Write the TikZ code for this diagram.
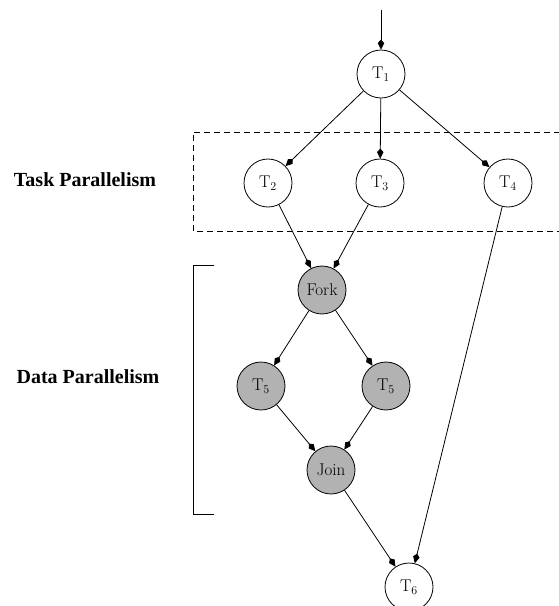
\documentclass[tikz,border=0pt]{standalone}
\usepackage{fontspec}
\newfontfamily\labelfont{Liberation Serif}
\usetikzlibrary{arrows.meta}
\tikzset{
  task/.style={circle,draw,line width=0.8pt,minimum size=48pt,inner sep=0pt,font=\fontsize{17}{19}\selectfont},
  datatask/.style={task,fill=black!30},
  edge/.style={line width=0.8pt,-{Kite[length=10pt,width=6.5pt,inset=3.5pt]}},
  side/.style={font=\labelfont\bfseries\fontsize{20}{24}\selectfont},
}
\begin{document}
\begin{tikzpicture}[x=1pt,y=-1pt]
\useasboundingbox (0,0) rectangle (558,606);
\draw[dashed,dash pattern=on 6pt off 4pt,line width=0.8pt] (620,132) -- (193,132) -- (193,231) -- (620,231);
\draw[line width=0.8pt] (214,265) -- (193,265) -- (193,514) -- (214,514);
\coordinate (start) at (381,10);
\node[task] (t1) at (381,74) {T$_1$};
\node[task] (t2) at (268,183) {T$_2$};
\node[task] (t3) at (380,183) {T$_3$};
\node[task] (t4) at (508,183) {T$_4$};
\node[datatask] (fork) at (322,290) {Fork};
\node[datatask] (t5a) at (261,386) {T$_5$};
\node[datatask] (t5b) at (386,386) {T$_5$};
\node[datatask] (join) at (331,470) {Join};
\node[task] (t6) at (409,587) {T$_6$};
\node[side] (tp) at (85,180) {Task Parallelism};
\node[side] (dp) at (88,377) {Data Parallelism};
\draw[edge] (start) -- (t1);
\draw[edge] (t1) -- (t2);
\draw[edge] (t1) -- (t3);
\draw[edge] (t1) -- (t4);
\draw[edge] (t2) -- (fork);
\draw[edge] (t3) -- (fork);
\draw[edge] (fork) -- (t5a);
\draw[edge] (fork) -- (t5b);
\draw[edge] (t5a) -- (join);
\draw[edge] (t5b) -- (join);
\draw[edge] (join) -- (t6);
\draw[edge] (t4) -- (t6);
\end{tikzpicture}
\end{document}
